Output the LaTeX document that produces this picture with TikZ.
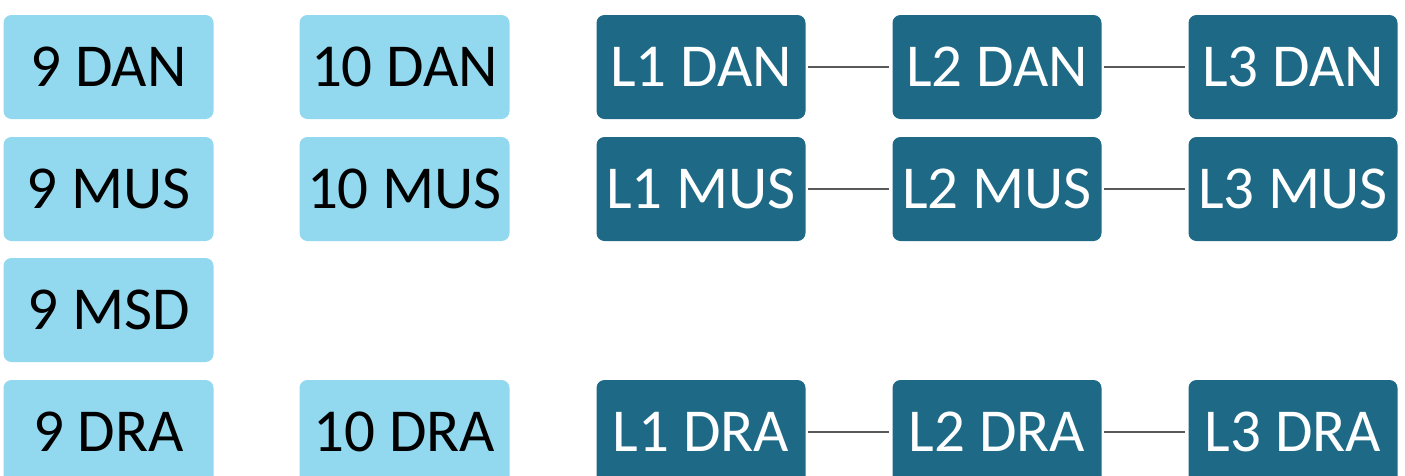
\documentclass[tikz,border=0pt]{standalone}
\usepackage{fontspec}
\setmainfont{Carlito}
\definecolor{lightblue}{RGB}{146,216,238}
\definecolor{darkteal}{RGB}{30,106,134}
\definecolor{linegray}{RGB}{89,89,89}
\begin{document}
\begin{tikzpicture}
[
 x=1pt, y=-1pt,
 inner sep=0pt,
 LIGHTBOX/.style={rectangle, rounded corners=8pt, fill=lightblue, text=black, minimum width=210pt, minimum height=104pt, font=\fontsize{61}{72}\selectfont},
 DARKBOX/.style={rectangle, rounded corners=8pt, fill=darkteal, text=white, minimum width=209pt, minimum height=104pt, font=\fontsize{61}{72}\selectfont},
 LINK/.style={draw=linegray, line width=2.5pt, shorten <=2pt, shorten >=3pt},
 ],
%
\useasboundingbox (0,0) rectangle (1405,475);
%
\node [LIGHTBOX]  (G9DAN)   at ( 108.5, 67)  {9 DAN};
\node [LIGHTBOX]  (G9MUS)   at ( 108.5, 189)  {9 MUS};
\node [LIGHTBOX]  (G9MSD)   at ( 108.5, 310)  {9 MSD};
\node [LIGHTBOX]  (G9DRA)   at ( 108.5, 432)  {9 DRA};
%
\node [LIGHTBOX]  (G10DAN)  at ( 404.5, 67)  {10 DAN};
\node [LIGHTBOX]  (G10MUS)  at ( 404.5, 189)  {10 MUS};
\node [LIGHTBOX]  (G10DRA)  at ( 404.5, 432)  {10 DRA};
%
\foreach \lev/\x in {1/701,2/997,3/1293}
   {
     \node [DARKBOX]  (L\lev DAN)  at ( \x, 67)  {L\lev\ DAN};
     \node [DARKBOX]  (L\lev MUS)  at ( \x, 189)  {L\lev\ MUS};
     \node [DARKBOX]  (L\lev DRA)  at ( \x, 432)  {L\lev\ DRA};
   }
%
\foreach \sub in {DAN,MUS,DRA}
   {
     \draw [LINK]  (L1\sub.east)  -- (L2\sub.west) ;
     \draw [LINK]  (L2\sub.east)  -- (L3\sub.west) ;
   }
\end{tikzpicture}
\end{document}
